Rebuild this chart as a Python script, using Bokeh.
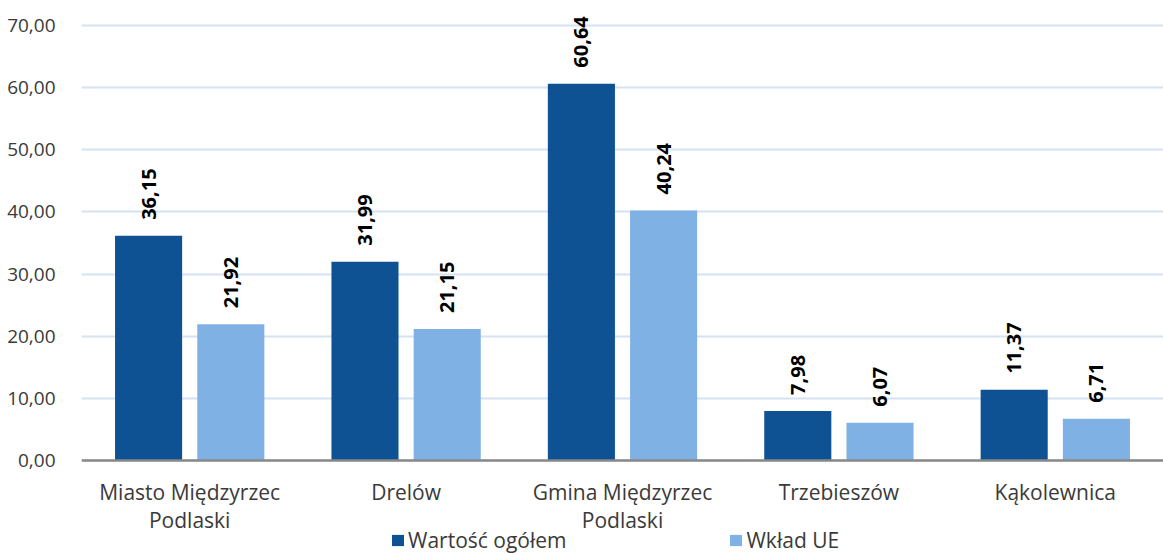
import math
from bokeh.plotting import figure
from bokeh.core.properties import value
from bokeh.models import (ColumnDataSource, FactorRange, LabelSet, Legend, LegendItem,
                          FixedTicker, CustomJSTickFormatter, Range1d)
from bokeh.transform import dodge
from bokeh.embed import file_html
from bokeh.resources import INLINE

categories = ["Miasto Międzyrzec\nPodlaski", "Drelów", "Gmina Międzyrzec\nPodlaski",
              "Trzebieszów", "Kąkolewnica"]
wartosc_ogolem = [36.15, 31.99, 60.64, 7.98, 11.37]
wklad_ue = [21.92, 21.15, 40.24, 6.07, 6.71]
series_names = ["Wartość ogółem", "Wkład UE"]
y_ticks = [0, 10, 20, 30, 40, 50, 60, 70]

DARK = "#0E5294"
LIGHT = "#80B1E4"
FONT = "Open Sans"
TXT = "#3a3a3a"


def fmt(v):
    return f"{v:.2f}".replace(".", ",")


src = ColumnDataSource(dict(
    cat=categories,
    total=wartosc_ogolem,
    ue=wklad_ue,
    total_lbl=[fmt(v) for v in wartosc_ogolem],
    ue_lbl=[fmt(v) for v in wklad_ue],
))

# The frame extends below zero so that the category labels and the legend
# (which sit under the x axis) live inside the plot frame.
p = figure(width=1163, height=554,
           x_range=FactorRange(*categories, range_padding=0),
           y_range=Range1d(-15.13, 73.70),
           output_backend="svg", toolbar_location=None,
           min_border_left=81, min_border_right=0, min_border_top=2, min_border_bottom=0)
p.outline_line_color = None
p.background_fill_color = "white"
p.border_fill_color = "white"

off = 0.19
bw = 0.31
r1 = p.vbar(x=dodge("cat", -off, range=p.x_range), top="total", width=bw, bottom=0,
            source=src, fill_color=DARK, line_color=None)
r2 = p.vbar(x=dodge("cat", off, range=p.x_range), top="ue", width=bw, bottom=0,
            source=src, fill_color=LIGHT, line_color=None)

for col, lbl, o in (("total", "total_lbl", -off), ("ue", "ue_lbl", off)):
    ls = LabelSet(x=dodge("cat", o, range=p.x_range), y=col, text=lbl, source=src,
                  angle=math.pi / 2, text_align="left", text_baseline="middle",
                  y_offset=16, text_font=value(FONT), text_font_style="bold",
                  text_font_size="20px", text_color="#000000")
    p.add_layout(ls)

# axes
p.yaxis.ticker = FixedTicker(ticks=y_ticks)
p.yaxis.formatter = CustomJSTickFormatter(code="return tick.toFixed(2).replace('.', ',');")
p.yaxis.axis_line_color = None
p.yaxis.major_tick_line_color = None
p.yaxis.minor_tick_line_color = None
p.yaxis.major_label_standoff = 20
p.yaxis.major_label_text_font = FONT
p.yaxis.major_label_text_font_size = "19px"
p.yaxis.major_label_text_color = TXT

p.xaxis.fixed_location = 0
p.xaxis.axis_line_color = "#898989"
p.xaxis.axis_line_width = 2.5
p.xaxis.major_tick_line_color = None
p.xaxis.minor_tick_line_color = None
p.xaxis.major_label_standoff = 12
p.xaxis.major_label_text_font = FONT
p.xaxis.major_label_text_font_size = "21px"
p.xaxis.major_label_text_color = TXT
p.xaxis.major_label_text_line_height = 1.0

p.xgrid.grid_line_color = None
p.ygrid.grid_line_color = "#D6E2F2"
p.ygrid.grid_line_width = 2

legend = Legend(items=[LegendItem(label=series_names[0], renderers=[r1]),
                       LegendItem(label=series_names[1], renderers=[r2])],
                orientation="horizontal", location=(309, 0), spacing=162,
                glyph_width=15, glyph_height=14, label_standoff=3,
                label_text_font=FONT, label_text_font_size="21px",
                label_text_color=TXT, border_line_color=None,
                background_fill_alpha=0, padding=0, margin=0)
p.add_layout(legend)

open("out.html", "w").write(file_html(p, INLINE))
